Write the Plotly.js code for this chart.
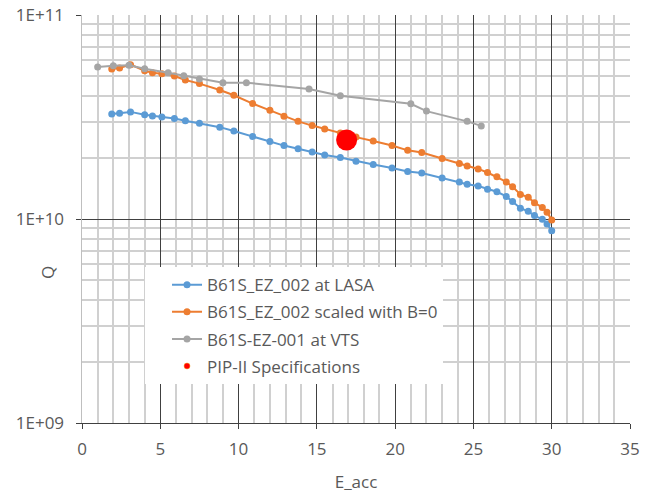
<!DOCTYPE html>
<html>
<head>
<meta charset="utf-8">
<script src="https://cdn.plot.ly/plotly-3.0.1.min.js"></script>
<style>html,body{margin:0;padding:0;background:#fff}#chart{width:650px;height:493px}</style>
</head>
<body>
<div id="chart"></div>
<script>
// ---- data ----
const lasaE = [1.9, 2.4, 3.1, 4.0, 4.5, 5.1, 5.9, 6.6, 7.5, 8.8, 9.7, 10.9, 12.0, 12.9, 13.8, 14.7, 15.5, 16.5, 17.5, 18.6, 19.8, 20.8, 21.7, 23.0, 24.1, 24.6, 25.3, 25.9, 26.5, 27.1, 27.5, 28.0, 28.5, 28.9, 29.4, 29.7, 30.0];
const lasaQ = [3.27e10, 3.30e10, 3.35e10, 3.24e10, 3.20e10, 3.16e10, 3.11e10, 3.03e10, 2.95e10, 2.82e10, 2.70e10, 2.54e10, 2.40e10, 2.29e10, 2.21e10, 2.13e10, 2.06e10, 2.00e10, 1.92e10, 1.85e10, 1.78e10, 1.71e10, 1.68e10, 1.59e10, 1.52e10, 1.48e10, 1.45e10, 1.40e10, 1.36e10, 1.29e10, 1.22e10, 1.13e10, 1.09e10, 1.04e10, 9.97e9, 9.45e9, 8.76e9];
const scaledE = [1.9, 2.4, 3.1, 4.0, 4.5, 5.1, 5.9, 6.6, 7.5, 8.8, 9.7, 10.9, 12.0, 12.9, 13.8, 14.7, 15.5, 16.5, 17.5, 18.6, 19.8, 20.8, 21.7, 23.0, 24.1, 24.6, 25.3, 25.9, 26.5, 27.1, 27.5, 28.0, 28.5, 28.9, 29.4, 29.7, 30.0];
const scaledQ = [5.44e10, 5.50e10, 5.71e10, 5.33e10, 5.21e10, 5.15e10, 5.02e10, 4.80e10, 4.61e10, 4.29e10, 4.04e10, 3.68e10, 3.41e10, 3.19e10, 3.01e10, 2.87e10, 2.76e10, 2.64e10, 2.52e10, 2.41e10, 2.29e10, 2.17e10, 2.12e10, 1.98e10, 1.87e10, 1.82e10, 1.76e10, 1.69e10, 1.61e10, 1.52e10, 1.44e10, 1.32e10, 1.28e10, 1.20e10, 1.14e10, 1.08e10, 9.89e9];
const vtsE = [1.0, 2.0, 3.0, 4.0, 5.5, 6.5, 7.5, 9.0, 10.5, 14.5, 16.5, 21.0, 22.0, 24.6, 25.5];
const vtsQ = [5.56e10, 5.64e10, 5.67e10, 5.45e10, 5.21e10, 5.04e10, 4.86e10, 4.66e10, 4.66e10, 4.34e10, 4.02e10, 3.67e10, 3.38e10, 3.01e10, 2.86e10];
const specE = [16.9];
const specQ = [2.44e10];
const seriesNames = ["B61S_EZ_002 at LASA", "B61S_EZ_002 scaled with B=0", "B61S-EZ-001 at VTS", "PIP-II Specifications"];
const yTickVals = [1e9, 1e10, 1e11];
const yTickText = ["1E+09", "1E+10", "1E+11"];
const yMinorVals = [2e9, 3e9, 4e9, 5e9, 6e9, 7e9, 8e9, 9e9, 2e10, 3e10, 4e10, 5e10, 6e10, 7e10, 8e10, 9e10];

// ---- styles ----
const FONT = "'Open Sans', 'Noto Sans', sans-serif";
const TXT = "#595959";
const MAJOR = "#404040";
const MINOR = "#d0d0d0";

const traces = [
  {x: lasaE, y: lasaQ, name: seriesNames[0], mode: "lines+markers", legendgroup: "a",
   line: {color: "#5B9BD5", width: 2}, marker: {color: "#5B9BD5", size: 7}},
  {x: scaledE, y: scaledQ, name: seriesNames[1], mode: "lines+markers", legendgroup: "b",
   line: {color: "#ED7D31", width: 2}, marker: {color: "#ED7D31", size: 7}},
  {x: vtsE, y: vtsQ, name: seriesNames[2], mode: "lines+markers", legendgroup: "c",
   line: {color: "#A5A5A5", width: 2}, marker: {color: "#A5A5A5", size: 7}},
  {x: specE, y: specQ, name: seriesNames[3], mode: "markers", legendgroup: "d", showlegend: false,
   marker: {color: "#FF0000", size: 21}},
  {x: [null], y: [null], name: seriesNames[3], mode: "markers", legendgroup: "d",
   marker: {color: "#FF0000", size: 6, line: {color: "#F5A623", width: 0.5}}}
];

const layout = {
  width: 650, height: 493,
  margin: {l: 82, r: 20, t: 15, b: 70},
  paper_bgcolor: "#fff", plot_bgcolor: "#fff",
  font: {family: FONT, color: TXT, size: 16},
  showlegend: true,
  legend: {
    x: 0.115, y: 0.382, xanchor: "left", yanchor: "top",
    bgcolor: "#fff", borderwidth: 0,
    font: {family: FONT, size: 17, color: TXT},
    traceorder: "grouped", tracegroupgap: 2, indentation: 22,
    itemwidth: 30
  },
  xaxis: {
    range: [0, 35], tick0: 0, dtick: 5, tickmode: "linear",
    showgrid: true, gridcolor: MAJOR, gridwidth: 1,
    minor: {dtick: 1, tick0: 0, showgrid: true, gridcolor: MINOR, gridwidth: 2},
    ticks: "outside", ticklen: 5, tickcolor: MAJOR,
    showline: true, linecolor: MAJOR, linewidth: 1, zeroline: false,
    ticklabelstandoff: 6,
    tickfont: {family: FONT, size: 17, color: TXT},
    title: {text: "E_acc", font: {family: FONT, size: 17, color: TXT}, standoff: 16}
  },
  yaxis: {
    type: "log", range: [9, 11],
    tickmode: "array", tickvals: yTickVals, ticktext: yTickText,
    showgrid: true, gridcolor: MAJOR, gridwidth: 1,
    minor: {tickmode: "array", tickvals: yMinorVals, showgrid: true, gridcolor: MINOR, gridwidth: 2},
    ticks: "outside", ticklen: 5, tickcolor: MAJOR,
    showline: true, linecolor: "#bfbfbf", linewidth: 1.5, zeroline: false,
    ticklabelstandoff: 8,
    tickfont: {family: FONT, size: 17, color: TXT}
  },
  annotations: [
    {text: "Q", xref: "paper", yref: "paper", x: -0.064, y: 0.37, textangle: -90,
     showarrow: false, font: {family: FONT, size: 17, color: TXT}, xanchor: "center", yanchor: "middle"}
  ]
};

Plotly.newPlot("chart", traces, layout, {displayModeBar: false, staticPlot: true});
</script>
</body>
</html>
